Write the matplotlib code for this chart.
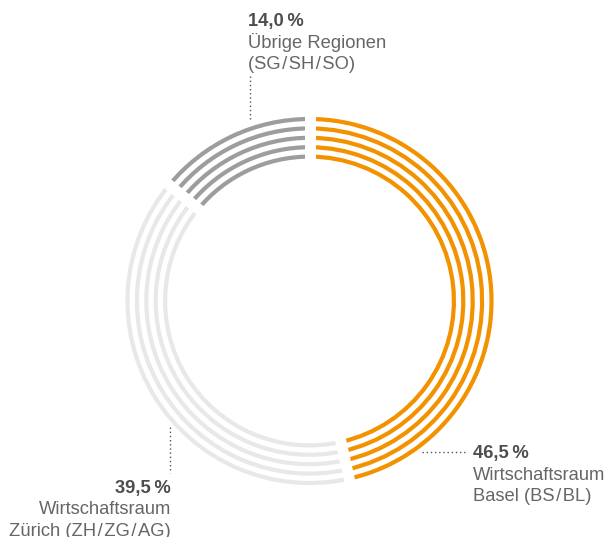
import numpy as np
import matplotlib
matplotlib.use("Agg")
import matplotlib.pyplot as plt

# shares in %, clockwise from 12 o'clock
region_lines = [["Wirtschaftsraum", "Basel (BS\u200a/\u200aBL)"],
                ["Wirtschaftsraum", "Zürich (ZH\u200a/\u200aZG\u200a/\u200aAG)"],
                ["Übrige Regionen", "(SG\u200a/\u200aSH\u200a/\u200aSO)"]]
shares = [46.5, 39.5, 14.0]
share_labels = ["46,5\u2009%", "39,5\u2009%", "14,0\u2009%"]
colors = ["#F39200", "#E8E8E8", "#9D9D9C"]

W, H = 609, 537
CX, CY = 309.5, H - 301          # ring centre in pixel coords
RADII = [182, 172.6, 163.2, 153.8, 144.4]
THICK = 4.2
GAP_PX = 11

plt.rcParams["font.family"] = ["Liberation Sans", "DejaVu Sans"]

fig = plt.figure(figsize=(W / 100, H / 100), dpi=100)
ax = fig.add_axes([0, 0, 1, 1])

for r in RADII:
    ax.pie(shares, radius=r + THICK / 2, center=(CX, CY), startangle=90,
           counterclock=False, colors=colors,
           wedgeprops=dict(width=THICK, linewidth=0))

# white radial cuts at segment boundaries (constant-width gaps)
bounds = 90 - 3.6 * np.cumsum([0] + shares[:-1])
for a in np.deg2rad(bounds):
    rr = RADII[0] + 6
    ax.plot([CX, CX + rr * np.cos(a)], [CY, CY + rr * np.sin(a)],
            color="white", lw=GAP_PX * 0.72, solid_capstyle="butt",
            zorder=5)

ax.set_xlim(0, W)
ax.set_ylim(0, H)
ax.set_aspect("equal")
ax.axis("off")

C_NUM = "#4d4d4d"
C_TXT = "#666666"
FS = 13.2
LINE = 21.5
dot = dict(color="#555555", lw=1.0, ls=(0, (1, 2)))


def label(x, y_top, ha, i):
    """bold share on the first baseline, region name on the next ones"""
    ax.text(x, H - y_top, share_labels[i], ha=ha, va="baseline",
            fontsize=FS, fontweight="bold", color=C_NUM)
    for k, s in enumerate(region_lines[i], start=1):
        ax.text(x, H - y_top - k * LINE, s, ha=ha, va="baseline",
                fontsize=FS, color=C_TXT)


ax.plot([422, 468], [H - 452, H - 452], **dot)
label(473, 458, "left", 0)

ax.plot([170, 170], [H - 427, H - 473], **dot)
label(171, 493, "right", 1)

ax.plot([250, 250], [H - 76, H - 121], **dot)
label(248, 26, "left", 2)

fig.savefig("out.png", dpi=100, facecolor="white")
